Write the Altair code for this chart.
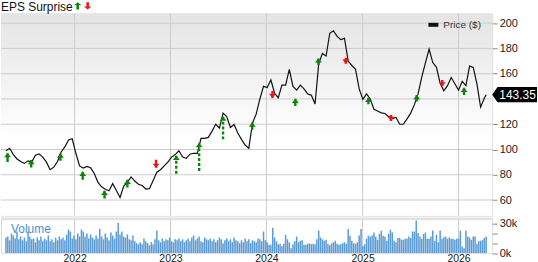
import altair as alt
import pandas as pd

# ---------------- data ----------------
price_start = "2021-04-15"          # biweekly closes
price_values = [
    99, 101, 96, 92.5, 90.5, 89, 91, 90, 95.5, 96.5,
    94, 90, 84, 86, 90.5, 98, 102, 107.5, 108.5, 97,
    87, 85.3, 86.6, 85.5, 81, 74, 70.5, 68.5, 67.3, 73,
    67.5, 62, 71, 74, 78.3, 75, 72.5, 71.5, 68.7, 69,
    75.5, 82, 84, 87, 90, 94, 96, 99, 94, 93,
    96.3, 97, 97, 108.8, 108.8, 109.6, 114.5, 120, 117, 128.8,
    126, 117.5, 119.8, 113, 108, 103.5, 101, 121, 128, 140,
    150, 149, 155, 144.5, 141, 151, 151, 163.5, 150, 147,
    151, 148, 144, 143, 136, 168, 176, 174, 192, 194,
    189.5, 187, 188, 170, 166.5, 163.5, 148, 139.7, 144, 140,
    131.8, 130.5, 129, 128.5, 126, 124.5, 125.3, 120, 120, 124.2,
    128.8, 135.5, 144, 157.3, 168.5, 179.5, 168.8, 165, 152.5, 146.5,
    150.5, 157, 152, 147, 154, 150.5, 166, 165, 152, 133.5,
    140.5,
]
last_date = "2026-04-16"
last_price = 143.35

volume_start = "2021-04-15"         # weekly volume, thousands
volume_thousands = [
    16, 17, 13, 20, 18, 15, 22, 14, 17, 13, 16,
    12, 22, 17, 14, 15, 11, 16, 13, 17, 12,
    15, 13, 18, 12, 14, 11, 16, 13, 17, 14,
    16, 13, 19, 24, 22, 15, 18, 14, 20, 17,
    24, 22, 17, 20, 15, 19, 16, 14, 18, 15,
    25, 17, 14, 20, 16, 13, 21, 18, 15, 22,
    31, 19, 22, 17, 16, 19, 14, 13, 18, 12,
    10, 9, 11, 9, 15, 12, 10, 8, 11, 9,
    14, 23, 13, 11, 15, 12, 14, 13, 16, 12,
    11, 14, 13, 15, 12, 14, 11, 13, 15, 12,
    16, 18, 13, 15, 17, 12, 11, 16, 14, 13,
    15, 12, 14, 11, 13, 16, 14, 10, 13, 15,
    12, 14, 11, 16, 13, 12, 10, 13, 11, 15,
    12, 14, 10, 13, 12, 11, 15, 14, 12, 22, 13, 11,
    8.5, 8.5, 26, 16, 12, 9, 9.5, 7, 9.5, 18.7,
    14, 11, 5, 9, 12, 17, 11, 12.6, 13, 8.5,
    8.5, 9.5, 10, 9, 9.5, 9, 14, 23, 16, 14,
    12.6, 13.6, 9.5, 8, 10, 11, 12.6, 9.5, 8.5, 9,
    10, 11, 9.5, 24.5, 17.7, 12.6, 10, 9.5, 11, 18,
    24.5, 7, 9, 14.6, 17.7, 16.7, 18, 21, 17, 13.6,
    19.7, 22.8, 17.7, 17, 12.6, 19.7, 23.8, 21, 12.6, 11,
    15.3, 15.3, 13.6, 13.6, 14.6, 14.6, 17, 15.3, 22, 22,
    33.3, 20.4, 17, 14.6, 19.4, 21, 14.6, 14.6, 17, 23,
    12.6, 18.7, 11, 23, 14.6, 16.3, 17, 14.6, 16, 14.6,
    14.6, 13.6, 14.6, 15, 22.8, 6.8, 5, 23, 17, 16,
    13.6, 17, 17, 9.5, 12, 12.6, 13, 15.3, 17,
]

eps_dates = ["2021-04-21", "2021-07-20", "2021-11-08", "2022-02-01", "2022-04-25",
             "2022-07-21", "2022-11-07", "2023-01-23", "2023-04-20", "2023-07-20",
             "2023-11-08", "2024-01-24", "2024-04-20", "2024-07-17", "2024-10-29",
             "2025-01-23", "2025-04-19", "2025-07-26", "2025-10-31", "2026-01-22"]
eps_result = ["beat", "beat", "beat", "beat", "beat", "beat", "miss", "beat", "beat", "beat",
              "beat", "miss", "beat", "beat", "miss", "beat", "miss", "beat", "miss", "beat"]
eps_tip = [97.1, 91.7, 96.8, 82.3, 67.3, 76, 85.5, 95, 105, 126,
           121.3, 140.8, 140.2, 172.1, 167.9, 141, 122.6, 143.1, 150, 148.9]
eps_end = [90.2, 85.7, 91, 76, 61.3, 70, 91.8, 80.8, 83, 108.2,
           115.5, 146.3, 134.5, 166.6, 172.6, 135.8, 127.4, 137.9, 155, 143.1]
eps_style = ["solid"] * 7 + ["dashed"] * 3 + ["solid"] * 10

year_ticks = ["2022-01-01", "2023-01-01", "2024-01-01", "2025-01-01", "2026-01-01"]
price_ticks = [60, 80, 100, 120, 140, 160, 180, 200]
price_labelled = [60, 80, 100, 120, 160, 180, 200]   # 140 sits under the last-price tag
volume_ticks = [0, 10000, 20000, 30000]
x_range = ["2021-04-15", "2026-04-20"]
price_domain = [47.6, 207.7]
volume_domain = [0, 36200]

# ---------------- build ----------------
FONT = "Liberation Sans"
W, H1, H2 = 493, 203, 35.5
GREEN, RED = "#0a850a", "#f01414"
GRID = "#cccccc"


def ms(s):
    return int(pd.Timestamp(s, tz="UTC").timestamp() * 1000)


pdates = pd.date_range(price_start, periods=len(price_values), freq="14D")
price_df = pd.DataFrame({
    "date": [d.strftime("%Y-%m-%d") for d in pdates] + [last_date],
    "price": price_values + [last_price],
})
vdates = pd.date_range(volume_start, periods=len(volume_thousands), freq="7D")
vol_df = pd.DataFrame({
    "date": [d.strftime("%Y-%m-%d") for d in vdates],
    "volume": [v * 1000 for v in volume_thousands],
})
eps_df = pd.DataFrame({"date": eps_dates, "result": eps_result, "tip": eps_tip,
                       "end": eps_end, "style": eps_style})
year_df = pd.DataFrame({"date": year_ticks})
pt_df = pd.DataFrame({"v": price_ticks})
one = pd.DataFrame({"a": [0]})
last_df = pd.DataFrame({"price": [last_price], "label": [f"{last_price:.2f}"]})

x_scale = alt.Scale(type="utc", domain=[ms(x_range[0]), ms(x_range[1])])
y_scale = alt.Scale(domain=price_domain, nice=False, zero=False)
y_axis = alt.Axis(orient="right", values=price_labelled, grid=False, domain=False,
                  tickSize=5, tickColor="#8a8a8a", labelFontSize=11, labelColor="#222222",
                  labelPadding=2, title=None, labelFont=FONT)
X = alt.X("date:T", scale=x_scale, axis=None)

grad = alt.Gradient(gradient="linear",
                    stops=[alt.GradientStop(color="#e4e4e4", offset=0),
                           alt.GradientStop(color="#ffffff", offset=0.62)],
                    x1=0, x2=0, y1=0, y2=1)

bg = alt.Chart(one).mark_rect(color=grad).encode(
    x=alt.value(0), x2=alt.value(W), y=alt.value(0), y2=alt.value(H1))
vgrid = alt.Chart(year_df).mark_rule(color=GRID, strokeWidth=1).encode(x=X)
hgrid = alt.Chart(pt_df).mark_rule(color=GRID, strokeWidth=1).encode(
    y=alt.Y("v:Q", scale=y_scale, axis=y_axis))
line = alt.Chart(price_df).mark_line(color="#111111", strokeWidth=1.2, clip=True).encode(
    x=X, y=alt.Y("price:Q", scale=y_scale, axis=y_axis))

col = alt.Color("result:N", scale=alt.Scale(domain=["beat", "miss"], range=[GREEN, RED]), legend=None)
stems = alt.Chart(eps_df).mark_rule(strokeWidth=2.4, clip=True).encode(
    x=X, y=alt.Y("tip:Q", scale=y_scale, axis=y_axis), y2="end:Q", color=col,
    strokeDash=alt.StrokeDash("style:N", scale=alt.Scale(domain=["solid", "dashed"],
                                                         range=[[1, 0], [3, 2]]), legend=None))
up_head = "M0,0L1,1.2L-1,1.2Z"
down_head = "M0,0L1,-1.2L-1,-1.2Z"
heads = alt.Chart(eps_df).mark_point(filled=True, size=49, opacity=1, strokeWidth=0, clip=True).encode(
    x=X, y=alt.Y("tip:Q", scale=y_scale, axis=y_axis), color=col,
    shape=alt.Shape("result:N", scale=alt.Scale(domain=["beat", "miss"], range=[up_head, down_head]),
                    legend=None))

swatch = alt.Chart(one).mark_rect(color="#111111").encode(
    x=alt.value(429), x2=alt.value(439), y=alt.value(9.4), y2=alt.value(13.4))
leg_text = alt.Chart(one).mark_text(text="Price ($)", align="left", baseline="middle",
                                    fontSize=10, font=FONT, color="#333333").encode(
    x=alt.value(444), y=alt.value(11.7))

tag_path = "M-1,0L-0.76,-0.34L1,-0.34L1,0.34L-0.76,0.34Z"
tag = alt.Chart(last_df).mark_point(shape=tag_path, size=2025, filled=True, color="#000000",
                                    opacity=1, strokeWidth=0).encode(
    x=alt.value(W + 22.5), y=alt.Y("price:Q", scale=y_scale, axis=y_axis))
tag_text = alt.Chart(last_df).mark_text(color="#ffffff", fontSize=12, font=FONT, align="center",
                                        baseline="middle").encode(
    x=alt.value(W + 25.5), y=alt.Y("price:Q", scale=y_scale, axis=y_axis), text="label:N")

title = alt.Chart(one).mark_text(text="EPS Surprise", align="left", baseline="middle",
                                 fontSize=12, font=FONT, color="#111111").encode(
    x=alt.value(0), y=alt.value(-6.3))
up_full = "M0,-1L1,-0.15L0.35,-0.15L0.35,1L-0.35,1L-0.35,-0.15L-1,-0.15Z"
down_full = "M0,1L1,0.15L0.35,0.15L0.35,-1L-0.35,-1L-0.35,0.15L-1,0.15Z"
t_up = alt.Chart(one).mark_point(shape=up_full, size=55, filled=True, color=GREEN,
                                 opacity=1, strokeWidth=0).encode(x=alt.value(77), y=alt.value(-7.6))
t_down = alt.Chart(one).mark_point(shape=down_full, size=55, filled=True, color=RED,
                                   opacity=1, strokeWidth=0).encode(x=alt.value(87), y=alt.value(-7.6))

top = alt.layer(bg, vgrid, hgrid, line, stems, heads, swatch, leg_text, tag, tag_text,
                title, t_up, t_down).properties(width=W, height=H1)

x_axis = alt.Axis(values=[ms(t) for t in year_ticks], format="%Y", formatType="utc",
                  labelFontSize=10.5, labelColor="#222222", ticks=False, domain=False, grid=False,
                  labelPadding=0, title=None, labelFont=FONT)
XV = alt.X("date:T", scale=x_scale, axis=x_axis)
v_axis = alt.Axis(orient="right", values=volume_ticks, format="~s", grid=False, domain=False,
                  tickSize=5, tickColor="#8a8a8a", labelFontSize=11, labelColor="#222222",
                  labelPadding=2, title=None, labelFont=FONT)

vgrid2 = alt.Chart(year_df).mark_rule(color=GRID, strokeWidth=1).encode(x=XV)
band = alt.Chart(one).mark_rect(color="#e2e2e2").encode(
    x=alt.value(0), x2=alt.value(W), y=alt.value(0), y2=alt.value(2.5))
bars = alt.Chart(vol_df).mark_bar(size=1.5, color="#5b9bd5", clip=True).encode(
    x=XV, y=alt.Y("volume:Q", scale=alt.Scale(domain=volume_domain, nice=False), axis=v_axis))
vol_text = alt.Chart(one).mark_text(text="Volume", align="left", baseline="middle", fontSize=12,
                                    font=FONT, color="#4a8fd6").encode(
    x=alt.value(10), y=alt.value(11.5))

bottom = alt.layer(vgrid2, band, bars, vol_text).properties(width=W, height=H2)

chart = (
    alt.vconcat(top, bottom, spacing=0)
    .resolve_scale(x="shared", y="independent")
    .properties(padding=0, background="#ffffff")
    .configure_view(stroke="#c8c8c8")
    .configure(font=FONT)
)

chart.save("out.html", embed_options={"renderer": "svg", "actions": False})
